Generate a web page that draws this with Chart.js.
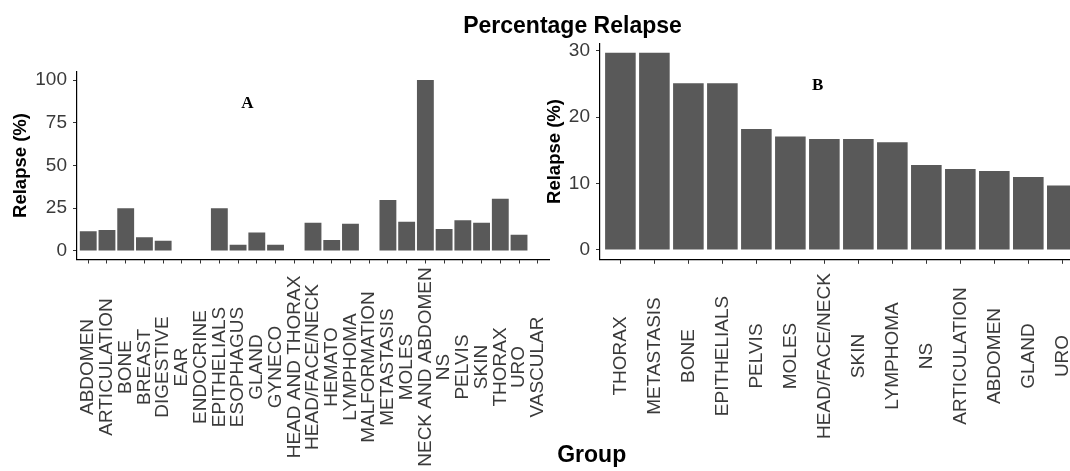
<!DOCTYPE html>
<html>
<head>
<meta charset="utf-8">
<script src="https://cdn.jsdelivr.net/npm/chart.js@4.4.1/dist/chart.umd.min.js"></script>
<style>
  html, body { margin: 0; padding: 0; background: #fff; overflow: hidden; width: 1070px; height: 471px; }
  #wrap { position: relative; width: 1070px; height: 471px; overflow: hidden; }
  canvas { position: absolute; top: 0; }
  #panelA { left: 0; }
  #panelB { left: 540px; }
  .heading {
    position: absolute; transform: translateX(-50%); white-space: nowrap;
    font-family: "Liberation Sans", Arial, sans-serif; font-weight: bold;
    font-size: 23px; line-height: 23px; color: #000;
  }
</style>
</head>
<body>
<div id="wrap">
  <canvas id="panelA" width="560" height="471"></canvas>
  <canvas id="panelB" width="560" height="471"></canvas>
  <div class="heading" style="left:572.5px; top:14px;">Percentage Relapse</div>
  <div class="heading" style="left:591.7px; top:442.5px;">Group</div>
</div>
<script>
// Panel A: relapse percentage for every group, alphabetical
const groupsA = [
  'ABDOMEN', 'ARTICULATION', 'BONE', 'BREAST', 'DIGESTIVE', 'EAR', 'ENDOCRINE',
  'EPITHELIALS', 'ESOPHAGUS', 'GLAND', 'GYNECO', 'HEAD AND THORAX', 'HEAD/FACE/NECK',
  'HEMATO', 'LYMPHOMA', 'MALFORMATION', 'METASTASIS', 'MOLES', 'NECK AND ABDOMEN',
  'NS', 'PELVIS', 'SKIN', 'THORAX', 'URO', 'VASCULAR'
];
const relapseA = [
  11.5, 12.2, 25.0, 8.0, 5.9, 0, 0,
  25.0, 3.7, 10.8, 3.7, 0, 16.5,
  6.4, 15.9, 0, 29.8, 17.1, 100,
  12.8, 17.9, 16.5, 30.6, 9.5, 0
];

// Panel B: groups ranked by relapse percentage
const groupsB = [
  'THORAX', 'METASTASIS', 'BONE', 'EPITHELIALS', 'PELVIS', 'MOLES', 'HEAD/FACE/NECK',
  'SKIN', 'LYMPHOMA', 'NS', 'ARTICULATION', 'ABDOMEN', 'GLAND', 'URO'
];
const relapseB = [
  29.7, 29.7, 25.1, 25.1, 18.2, 17.1, 16.7,
  16.7, 16.2, 12.8, 12.2, 11.9, 11.0, 9.7
];

const yTicksA = [0, 25, 50, 75, 100];
const yTicksB = [0, 10, 20, 30];

const SANS = '"Liberation Sans", Arial, sans-serif';

// Rotated, centred group labels, the y-axis title and the panel tag
const panelText = {
  id: 'panelText',
  afterDraw(chart, args, o) {
    const { ctx, chartArea, scales: { x, y } } = chart;
    ctx.save();
    ctx.textAlign = 'center';
    ctx.textBaseline = 'middle';

    ctx.fillStyle = '#3a3a3a';
    ctx.font = '19px ' + SANS;
    o.labels.forEach((t, i) => {
      ctx.save();
      ctx.translate(x.getPixelForValue(i), o.labelMidY);
      ctx.rotate(-Math.PI / 2);
      ctx.fillText(t, 0, 0);
      ctx.restore();
    });

    ctx.fillStyle = '#000';
    ctx.font = 'bold 18.5px ' + SANS;
    ctx.save();
    ctx.translate(o.titleX, (chartArea.top + chartArea.bottom) / 2);
    ctx.rotate(-Math.PI / 2);
    ctx.fillText('Relapse (%)', 0, 0);
    ctx.restore();

    ctx.font = 'bold 17px "Liberation Serif", "Times New Roman", serif';
    ctx.fillText(o.tag.text, x.getPixelForValue(o.tag.x), y.getPixelForValue(o.tag.y));
    ctx.restore();
  }
};

function makePanel(id, labels, values, cfg) {
  const tickMarks = { drawOnChartArea: false, drawTicks: true, tickLength: 4, color: '#333', lineWidth: 1, offset: false };
  const axisLine = { display: true, color: '#000', width: 1.2 };
  return new Chart(document.getElementById(id), {
    type: 'bar',
    data: {
      datasets: [{
        data: values.map((v, i) => ({ x: i, y: v })),
        backgroundColor: '#595959',
        borderWidth: 0,
        barPercentage: 0.9,
        categoryPercentage: 1
      }]
    },
    options: {
      responsive: false,
      animation: false,
      devicePixelRatio: 1,
      layout: { padding: cfg.padding },
      plugins: {
        legend: { display: false },
        tooltip: { enabled: false },
        panelText: cfg.text
      },
      scales: {
        x: {
          type: 'linear',
          offset: false,
          min: -0.6,
          max: labels.length - 1 + 0.6,
          afterBuildTicks: s => { s.ticks = labels.map((_, i) => ({ value: i })); },
          afterFit: s => { s.height = cfg.xHeight; },
          ticks: { display: false },
          grid: tickMarks,
          border: axisLine
        },
        y: {
          min: cfg.yMin,
          max: cfg.yMax,
          afterBuildTicks: s => { s.ticks = cfg.yTicks.map(v => ({ value: v })); },
          afterFit: s => { s.width = cfg.yWidth; },
          ticks: { color: '#3a3a3a', font: { family: SANS, size: 19 }, padding: 6 },
          grid: tickMarks,
          border: axisLine
        }
      }
    },
    plugins: [panelText]
  });
}

makePanel('panelA', groupsA, relapseA, {
  padding: { left: 0, top: 71.5, right: 11, bottom: 0 },
  yWidth: 77, xHeight: 211.5,
  yMin: -5, yMax: 105, yTicks: yTicksA,
  text: { labels: groupsA, labelMidY: 367, titleX: 20.7, tag: { text: 'A', x: 8.5, y: 86 } }
});

makePanel('panelB', groupsB, relapseB, {
  padding: { left: 0, top: 43.2, right: 17.3, bottom: 0 },
  yWidth: 60, xHeight: 211.2,
  yMin: -1.48, yMax: 31.13, yTicks: yTicksB,
  text: { labels: groupsB, labelMidY: 356, titleX: 15, tag: { text: 'B', x: 5.8, y: 24.8 } }
});
</script>
</body>
</html>
